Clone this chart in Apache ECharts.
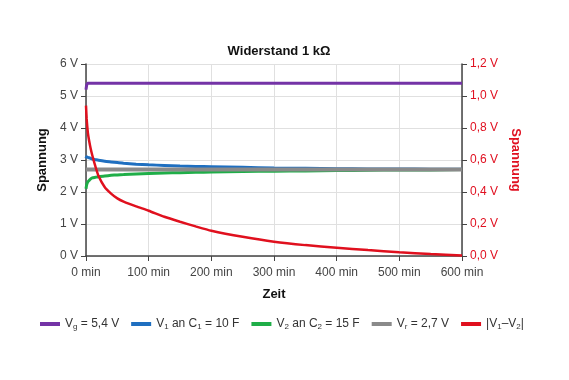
<!DOCTYPE html>
<html><head><meta charset="utf-8">
<script src="https://cdn.jsdelivr.net/npm/echarts@6/dist/echarts.min.js"></script>
<style>html,body{margin:0;padding:0;background:#fff}#c{width:569px;height:380px}</style>
</head><body><div id="c"></div>
<script>
const times = [0,1,2,3,5,7.5,10,15,20,30,40,50,60,80,100,125,150,175,200,250,300,350,400,450,500,550,600];
const vg = [5.2,5.33,5.38,5.4,5.4,5.4,5.4,5.4,5.4,5.4,5.4,5.4,5.4,5.4,5.4,5.4,5.4,5.4,5.4,5.4,5.4,5.4,5.4,5.4,5.4,5.4,5.4];
const v1 = [3.05,3.1,3.09,3.08,3.07,3.05,3.03,3.01,2.99,2.96,2.94,2.92,2.9,2.87,2.85,2.83,2.81,2.8,2.79,2.77,2.75,2.74,2.73,2.72,2.72,2.71,2.71];
const v2 = [2.1,2.22,2.28,2.32,2.36,2.41,2.44,2.46,2.48,2.5,2.52,2.535,2.545,2.565,2.58,2.595,2.605,2.615,2.625,2.64,2.65,2.66,2.67,2.68,2.69,2.69,2.7];
const vr = [2.7,2.7,2.7,2.7,2.7,2.7,2.7,2.7,2.7,2.7,2.7,2.7,2.7,2.7,2.7,2.7,2.7,2.7,2.7,2.7,2.7,2.7,2.7,2.7,2.7,2.7,2.7];
const diff = [0.94,0.86,0.81,0.77,0.72,0.67,0.63,0.56,0.5,0.43,0.39,0.36,0.34,0.31,0.283,0.245,0.214,0.185,0.158,0.12,0.089,0.068,0.052,0.037,0.024,0.012,0.003];
const names = ['Vg = 5,4 V','V1 an C1 = 10 F','V2 an C2 = 15 F','Vr = 2,7 V','|V1–V2|'];
const richNames = {
  'Vg = 5,4 V':'V{s|g} = 5,4 V',
  'V1 an C1 = 10 F':'V{s|1} an C{s|1} = 10 F',
  'V2 an C2 = 15 F':'V{s|2} an C{s|2} = 15 F',
  'Vr = 2,7 V':'V{s|r} = 2,7 V',
  '|V1–V2|':'|V{s|1}–V{s|2}|'
};
const pairs = arr => times.map((t,i)=>[t,arr[i]]);
const FONT = '"Liberation Sans",Arial,sans-serif';
const chart = echarts.init(document.getElementById('c'), null, {renderer:'canvas'});
chart.setOption({
  animation:false,
  textStyle:{fontFamily:FONT},
  title:{text:'Widerstand 1 kΩ',left:274,textAlign:'center',top:40,
    textStyle:{fontSize:13,fontWeight:'bold',color:'#111',fontFamily:FONT}},
  grid:{left:86,right:107,top:64,bottom:124},
  legend:{bottom:44,left:35,itemWidth:20,itemHeight:4,itemGap:12,icon:'rect',
    data:names,
    formatter:n=>richNames[n],
    textStyle:{fontSize:12,color:'#333',fontFamily:FONT,
      rich:{s:{fontSize:8,padding:[6,0,0,0],color:'#333',fontFamily:FONT}}}},
  xAxis:{type:'value',min:0,max:600,interval:100,
    name:'Zeit',nameLocation:'middle',nameGap:32,
    nameTextStyle:{fontSize:13,fontWeight:'bold',color:'#111'},
    axisLine:{show:true,lineStyle:{color:'#444',width:1.5}},
    axisTick:{show:true,length:5,lineStyle:{color:'#444'}},
    axisLabel:{formatter:'{value} min',fontSize:12,color:'#444',margin:11},
    splitLine:{show:true,lineStyle:{color:'#e0e0e0'}}},
  yAxis:[
    {type:'value',min:0,max:6,interval:1,position:'left',
      name:'Spannung',nameLocation:'middle',nameGap:20,nameRotate:90,
      nameTextStyle:{fontSize:13,fontWeight:'bold',color:'#111'},
      axisLine:{show:true,lineStyle:{color:'#444',width:1.5}},
      axisTick:{show:true,length:5,lineStyle:{color:'#444'}},
      axisLabel:{formatter:v=>v+' V',fontSize:12,color:'#444',margin:8},
      splitLine:{show:true,lineStyle:{color:'#e0e0e0'}}},
    {type:'value',min:0,max:1.2,interval:0.2,position:'right',
      name:'Spannung',nameLocation:'middle',nameGap:42,nameRotate:-90,
      nameTextStyle:{fontSize:13,fontWeight:'bold',color:'#e01020'},
      axisLine:{show:true,lineStyle:{color:'#444',width:1.5}},
      axisTick:{show:true,length:5,lineStyle:{color:'#444'}},
      axisLabel:{formatter:v=>v.toFixed(1).replace('.',',')+' V',fontSize:12,color:'#e01020',margin:8},
      splitLine:{show:false}}
  ],
  series:[
    {name:names[0],type:'line',data:pairs(vg),showSymbol:false,smooth:0.2,color:'#7433a6',lineStyle:{width:3,color:'#7433a6'}},
    {name:names[1],type:'line',data:pairs(v1),showSymbol:false,smooth:0.2,color:'#1f6fc0',lineStyle:{width:3,color:'#1f6fc0'}},
    {name:names[2],type:'line',data:pairs(v2),showSymbol:false,smooth:0.2,color:'#1fae48',lineStyle:{width:3,color:'#1fae48'}},
    {name:names[3],type:'line',data:pairs(vr),showSymbol:false,color:'#8a8a8a',lineStyle:{width:4,color:'#8a8a8a'}},
    {name:names[4],type:'line',yAxisIndex:1,data:pairs(diff),showSymbol:false,smooth:0.2,color:'#e0101e',lineStyle:{width:2.5,color:'#e0101e'}}
  ]
});
</script></body></html>
